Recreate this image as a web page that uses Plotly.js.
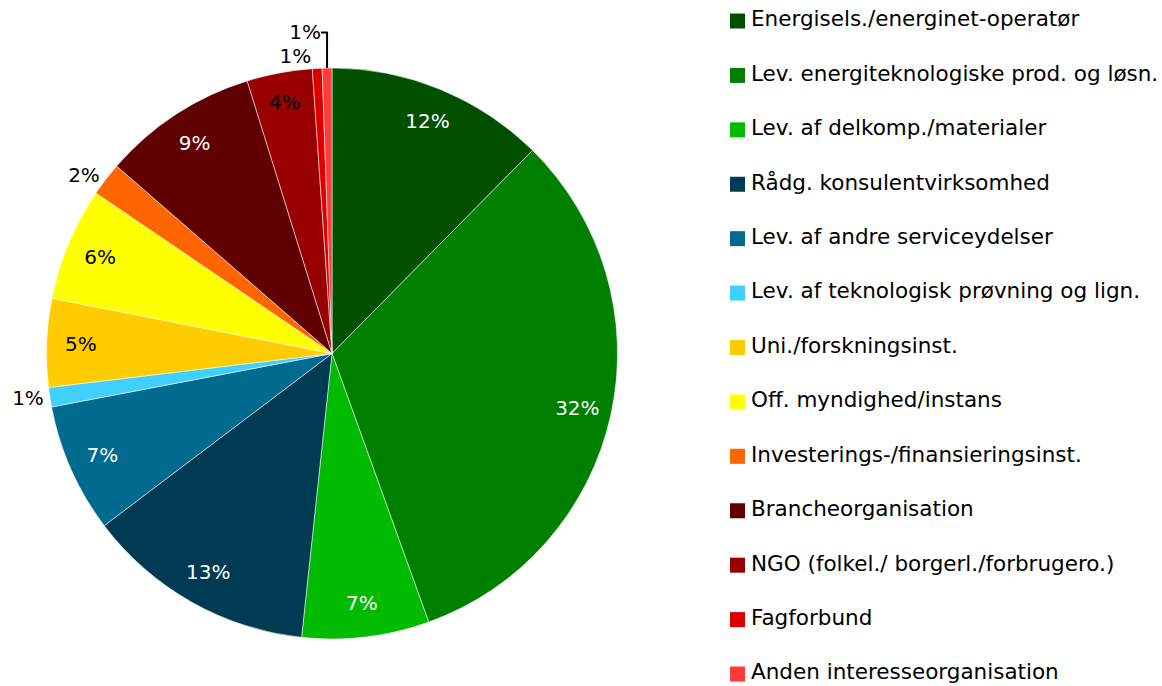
<!DOCTYPE html>
<html>
<head>
<meta charset="utf-8">
<script src="https://cdn.plot.ly/plotly-3.0.1.min.js"></script>
<style>
  html, body { margin: 0; padding: 0; background: #ffffff; }
  #chart { width: 1162px; height: 686px; }
</style>
</head>
<body>
<div id="chart"></div>
<script>
// ---- data ----
var categories = [
  "Energisels./energinet-operatør",
  "Lev. energiteknologiske prod. og løsn.",
  "Lev. af delkomp./materialer",
  "Rådg. konsulentvirksomhed",
  "Lev. af andre serviceydelser",
  "Lev. af teknologisk prøvning og lign.",
  "Uni./forskningsinst.",
  "Off. myndighed/instans",
  "Investerings-/finansieringsinst.",
  "Brancheorganisation",
  "NGO (folkel./ borgerl./forbrugero.)",
  "Fagforbund",
  "Anden interesseorganisation"
];
var shares = [12.4, 32.1, 7.2, 13.0, 7.3, 1.1, 5.0, 6.4, 1.9, 8.8, 3.7, 0.55, 0.55];
var pctLabels = ["12%", "32%", "7%", "13%", "7%", "1%", "5%", "6%", "2%", "9%", "4%", "1%", "1%"];
var colors = [
  "#005000", "#008000", "#00BB00", "#003B54", "#006A8F", "#40D0FF",
  "#FFCC00", "#FFFF00", "#FF6600", "#600000", "#990000", "#DD0000", "#FF3B3B"
];
var labelPositions = ["inside","inside","inside","inside","inside","outside",
  "inside","inside","outside","inside","inside","outside","outside"];
var insideColors = ["#ffffff","#ffffff","#ffffff","#ffffff","#ffffff","#000000",
  "#000000","#000000","#000000","#ffffff","#000000","#000000","#000000"];
var legendIndex = categories.map(function (_, i) { return i; });

var FONT = "'DejaVu Sans', 'Open Sans', sans-serif";
var pieDomain = { x: [46.5 / 1162, 617.5 / 1162], y: [47 / 686, 618 / 686] };

// filled slices
var pie = {
  type: "pie",
  labels: categories,
  values: shares,
  textinfo: "none",
  marker: { colors: colors, line: { color: "rgba(255,255,255,0.75)", width: 0.7 } },
  sort: false,
  direction: "clockwise",
  rotation: 0,
  domain: pieDomain,
  showlegend: false,
  hoverinfo: "label+percent"
};

// percentage labels (same slices, transparent; ring layout puts labels near the rim)
var pieLabels = {
  type: "pie",
  labels: categories,
  values: shares,
  text: pctLabels,
  textinfo: "text",
  textposition: labelPositions,
  insidetextorientation: "horizontal",
  insidetextfont: { family: FONT, size: 20, color: insideColors },
  outsidetextfont: { family: FONT, size: 20, color: "#000000" },
  marker: { colors: colors.map(function () { return "rgba(0,0,0,0)"; }), line: { width: 0 } },
  hole: 0.76,
  sort: false,
  direction: "clockwise",
  rotation: 0,
  domain: pieDomain,
  showlegend: false,
  hoverinfo: "skip"
};

// legend: coloured squares
var legendMarkers = {
  type: "scatter",
  mode: "markers",
  x: legendIndex.map(function () { return 0; }),
  y: legendIndex,
  marker: { symbol: "square", size: 15, color: colors, line: { width: 0 } },
  cliponaxis: false,
  showlegend: false,
  hoverinfo: "skip"
};

// legend: category names
var legendText = {
  type: "scatter",
  mode: "text",
  x: legendIndex.map(function () { return 13.5; }),
  y: legendIndex,
  text: categories,
  textposition: "middle right",
  textfont: { family: FONT, size: 21.5, color: "#000000" },
  cliponaxis: false,
  showlegend: false,
  hoverinfo: "skip"
};

var layout = {
  width: 1162,
  height: 686,
  margin: { l: 0, r: 0, t: 0, b: 0, pad: 0 },
  paper_bgcolor: "#ffffff",
  plot_bgcolor: "rgba(0,0,0,0)",
  showlegend: false,
  font: { family: FONT, size: 20, color: "#000000" },
  xaxis: { visible: false, range: [-737.5, 424.5], domain: [0, 1], fixedrange: true },
  yaxis: { visible: false, range: [12.22, -0.386], domain: [0, 1], fixedrange: true }
};

Plotly.newPlot("chart", [pie, pieLabels, legendMarkers, legendText], layout, { displayModeBar: false, staticPlot: true });
</script>
</body>
</html>
